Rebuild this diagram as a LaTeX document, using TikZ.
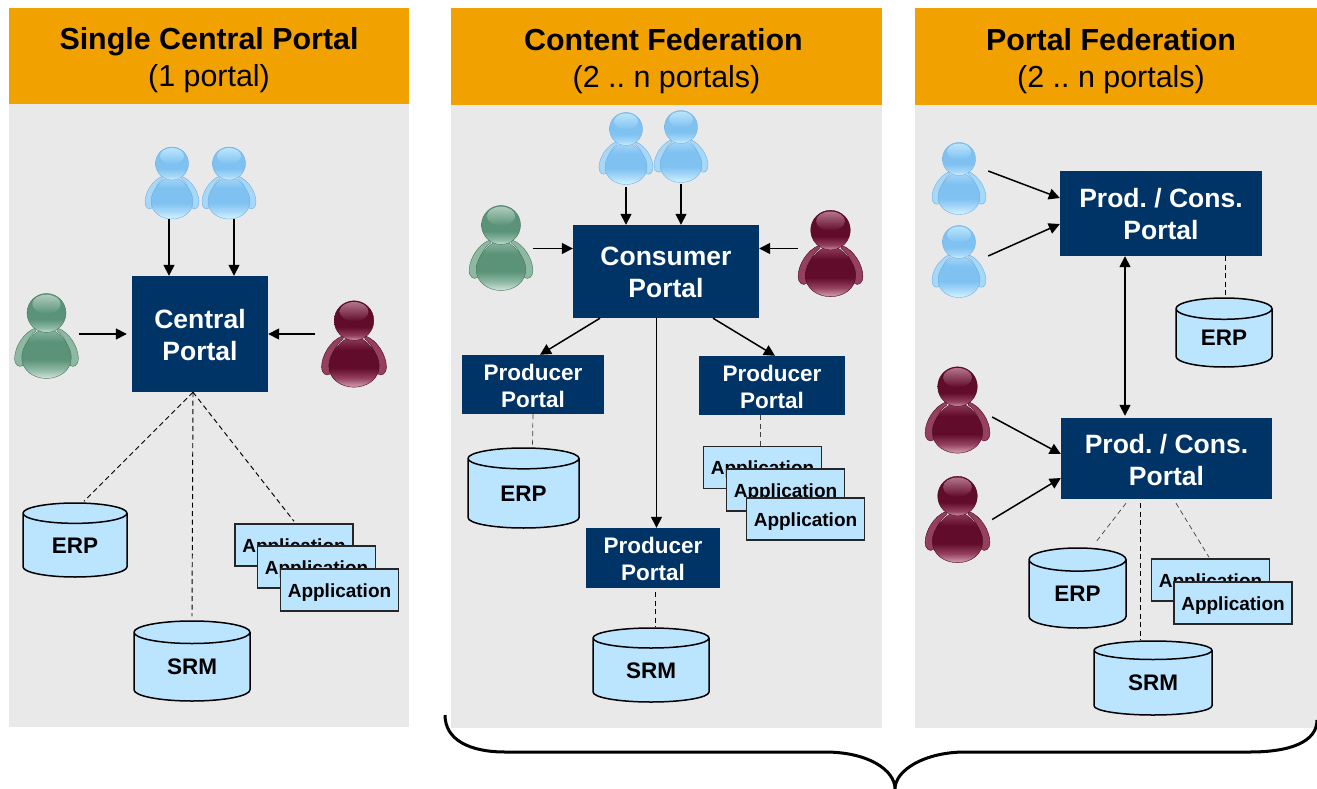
\documentclass[tikz,border=0pt]{standalone}
\usepackage{fontspec}
\setmainfont{Liberation Sans}
\frenchspacing
\usetikzlibrary{arrows.meta,shapes.geometric}

\definecolor{headerorange}{HTML}{F2A200}
\definecolor{panelgray}{HTML}{E9E9E9}
\definecolor{portalblue}{HTML}{003366}
\definecolor{storeblue}{HTML}{BBE5FF}
\definecolor{userbluedark}{HTML}{7FC2F2}
\definecolor{userbluemid}{HTML}{A8D8F8}
\definecolor{userbluelight}{HTML}{D0F2FE}
\definecolor{userblueline}{HTML}{6FB0E2}
\definecolor{usergreendark}{HTML}{5B9379}
\definecolor{usergreenmid}{HTML}{8DB8A2}
\definecolor{usergreenlight}{HTML}{CBE0D4}
\definecolor{usergreenline}{HTML}{46745E}
\definecolor{userreddark}{HTML}{620C2C}
\definecolor{userredmid}{HTML}{94405E}
\definecolor{userredlight}{HTML}{CE98A9}
\definecolor{userredline}{HTML}{4A0A20}

\newcommand{\usershading}[1]{%
    \pgfdeclareverticalshading{#1body}{100bp}{color(0bp)=(#1light); color(26bp)=(#1light);
        color(34bp)=(#1mid); color(44bp)=(#1dark); color(62bp)=(#1dark); color(75bp)=(#1mid); color(100bp)=(#1mid)}%
    \pgfdeclareverticalshading{#1head}{100bp}{color(0bp)=(#1light); color(25bp)=(#1light);
        color(31bp)=(#1mid); color(42bp)=(#1dark); color(75bp)=(#1dark); color(100bp)=(#1dark)}%
}
\usershading{userblue}
\usershading{usergreen}
\usershading{userred}
% pushes a block of lines down inside its box
\newcommand{\topgap}[1]{\rule{0pt}{#1pt}}

\tikzset{
    panel/.style={fill=panelgray, inner sep=0},
    header/.style={fill=headerorange, inner sep=0, align=center, font=\fontsize{30.4}{37}\selectfont},
    portal/.style={fill=portalblue, text=white, inner sep=0, align=center, font=\fontsize{26.5}{32}\selectfont\bfseries},
    portalsmall/.style={portal, font=\fontsize{22.5}{27}\selectfont\bfseries},
    store/.style={cylinder, shape border rotate=90, draw=black, line width=1.5pt, inner sep=0,
        cylinder uses custom fill, cylinder body fill=storeblue, cylinder end fill=storeblue,
        anchor=shape center, font=\fontsize{22.5}{26}\selectfont\bfseries},
    appbox/.style={draw=black!85, line width=1.5pt, fill=storeblue, inner sep=0, minimum width=118pt, minimum height=42pt,
        font=\fontsize{19}{22}\selectfont\bfseries, execute at begin node={\topgap{18}}},
    link/.style={line width=1.5pt, -{Triangle[length=11pt,width=11pt]}},
    dashlink/.style={dashed, line width=0.95pt, dash pattern=on 5pt off 3.5pt},
    thinlink/.style={dashlink, line width=0.7pt, draw=black!75},
    pics/person/.style={code={
        \node[inner sep=0, minimum width=54pt, minimum height=72pt, transform shape] (-n) {};
        % arms
        \foreach \s in {-1,1} {
            \path[xscale=\s, draw=#1line, line width=0.4pt, fill=#1mid]
                (9,-7) .. controls (20,-3) and (27,10) .. (27,19) .. controls (27,25) and (23,27) .. (20,25)
                .. controls (20,12) and (16,0) .. (9,-4) -- cycle;
        }
        % body and head
        \path[draw=#1line, line width=0.4pt, shade, shading=#1body]
            (0,-6) .. controls (10,-6) and (21,8) .. (21,18) .. controls (21,30) and (10,36) .. (0,36)
            .. controls (-10,36) and (-21,30) .. (-21,18) .. controls (-21,8) and (-10,-6) .. (0,-6) -- cycle;
        \path[draw=#1line, line width=0.4pt, shade, shading=#1head] (0,-19.5) circle[radius=16.5];
        \path[top color=#1light, bottom color=#1dark, opacity=0.75] (0,-27) ellipse[x radius=12, y radius=8];
    }},
}

\begin{document}
\begin{tikzpicture}[x=1pt, y=-1pt]

\useasboundingbox (0,0) rectangle (1317,789);

% grey panels with their headers
\node[panel, minimum width=400pt, minimum height=623pt] (pa) at (209,415.5) {};
\node[panel, minimum width=431pt, minimum height=623pt] (pb) at (666.5,416.5) {};
\node[panel, minimum width=402pt, minimum height=623pt] (pc) at (1116,416.5) {};
\node[header, minimum width=400pt, minimum height=96pt] (ha) at (209,56) {\topgap{31}\textbf{Single Central Portal}\\(1 portal)};
\node[header, minimum width=431pt, minimum height=97pt] (hb) at (666.5,56.5) {\topgap{31}\hspace*{-6pt}\textbf{Content Federation}\\(2 .. n portals)};
\node[header, minimum width=402pt, minimum height=97pt] (hc) at (1116,56.5) {\topgap{31}\hspace*{-10pt}\textbf{Portal Federation}\\\hspace*{-10pt}(2 .. n portals)};

% users
\foreach \n/\x/\y/\c/\f in {
    ba/172/183/userblue/1,
    bb/229/183/userblue/1,
    ga/46.5/336/usergreen/1.18,
    ra/354/344/userred/1.2,
    bc/626/148.5/userblue/1,
    bd/681/146.5/userblue/1,
    gb/501/248/usergreen/1.18,
    rb/830.5/253.5/userred/1.2,
    be/959/178.5/userblue/1,
    bf/959/261.5/userblue/1,
    rc/957.5/410/userred/1.2,
    rd/957.5/519.5/userred/1.2%
} {
    \pic[scale=\f] (\n) at (\x,\y) {person=\c};
}

% portals
\node[portal, minimum width=136pt, minimum height=116pt] (central) at (200,334) {\topgap{21}Central\\Portal};
\node[portal, minimum width=186pt, minimum height=93pt] (consumer) at (666,271.5) {\topgap{20}Consumer\\Portal};
\node[portalsmall, minimum width=142pt, minimum height=59pt] (proda) at (533,384.5) {\topgap{19}Producer\\Portal};
\node[portalsmall, minimum width=146pt, minimum height=59pt] (prodb) at (772,385.5) {\topgap{19}Producer\\Portal};
\node[portalsmall, minimum width=134pt, minimum height=60pt] (prodc) at (653,558) {\topgap{19}Producer\\Portal};
\node[portal, minimum width=202pt, minimum height=85pt] (fedup) at (1161,213.5) {\topgap{20}Prod. / Cons.\\Portal};
\node[portal, minimum width=211pt, minimum height=81pt] (feddown) at (1166.5,458.5) {\topgap{23}Prod. / Cons.\\Portal};

% data stores
\foreach \n/\x/\y/\w/\h/\a/\t in {
    erpa/75/540/104/74/.44/ERP,
    srma/192/661/116/80/.45/SRM,
    erpb/523.5/488/111/80/.45/ERP,
    srmb/651/665/116/74/.40/SRM,
    erpc/1224/332.5/96/69/.46/ERP,
    erpd/1077.5/588/97/80/.5/ERP,
    srmc/1153/678/118/74/.37/SRM%
} {
    \node[store, minimum width=\w pt, minimum height=\h pt, aspect=\a] (\n) at (\x,\y) {\t};
}

% applications, back to front
\foreach \n/\x/\y in {
    appa/294/545,
    appb/316.5/567,
    appc/339.5/590,
    appd/762.5/467.5,
    appe/785.5/490,
    appf/805.5/519,
    appg/1210.5/580,
    apph/1233/603%
} {
    \node[appbox] (\n) at (\x,\y) {Application};
}

% arrows from the users
\draw[link] ([xshift=-3pt]ba-n.south) -- ([xshift=-31pt]central.north);
\draw[link] ([xshift=5pt]bb-n.south) -- ([xshift=34pt]central.north);
\draw[link] (ga-n.east |- central.west) -- ([xshift=-5pt]central.west);
\draw[link] ([xshift=-6pt]ra-n.west |- central.east) -- (central.east);
\draw[link] ([yshift=-2pt]bc-n.south) -- (bc-n.south |- consumer.north);
\draw[link] ([yshift=-1pt]bd-n.south) -- (bd-n.south |- consumer.north);
\draw[link] ([yshift=23pt]gb-n.east |- consumer.west) -- ([yshift=23pt]consumer.west);
\draw[link] ([yshift=23pt]rb-n.west |- consumer.east) -- ([yshift=23pt]consumer.east);
\draw[link] ([shift={(2pt,7.5pt)}]be-n.east) -- ([yshift=15.5pt]fedup.west);
\draw[link] ([shift={(2pt,5.5pt)}]bf-n.east) -- ([yshift=-10.5pt]fedup.west);
\draw[link] ([shift={(2pt,-7pt)}]rc-n.east) -- ([yshift=4.5pt]feddown.west);
\draw[link] ([xshift=2pt]rd-n.east) -- ([yshift=-19.5pt]feddown.west);

% arrows between the portals
\draw[link] ([xshift=-66pt]consumer.south) -- ([xshift=7pt]proda.north);
\draw[link] ([xshift=47pt]consumer.south) -- ([xshift=3pt]prodb.north);
\draw[link] ([xshift=-9.5pt]consumer.south) -- ([xshift=3.5pt]prodc.north);
\draw[line width=1.5pt, {Triangle[length=11pt,width=11pt]}-{Triangle[length=11pt,width=11pt]}]
    ([xshift=-36pt]fedup.south) -- ([shift={(-41.5pt,2pt)}]feddown.north);

% dashed links to the back ends
\draw[dashlink] ([xshift=-7pt]central.south) -- ([shift={(9pt,1pt)}]erpa.top);
\draw[dashlink] ([xshift=-7pt]central.south) -- ([yshift=4pt]srma.top);
\draw[dashlink] ([xshift=-7pt]central.south) -- ([yshift=2pt]appa.north);
\draw[thinlink] (proda.south) -- ([xshift=9pt]erpb.top);
\draw[thinlink] ([xshift=-12pt]prodb.south) -- ([xshift=-2.5pt]appd.north);
\draw[dashlink] ([shift={(2pt,-4pt)}]prodc.south) -- ([xshift=4pt]srmb.top);
\draw[dashlink] ([xshift=64pt]fedup.south) -- ([xshift=1pt]erpc.top);
\draw[thinlink] ([shift={(-40.5pt,-4pt)}]feddown.south) -- ([shift={(17.5pt,4pt)}]erpd.top);
\draw[dashlink] ([shift={(-26.5pt,-4pt)}]feddown.south) -- ([xshift=-13pt]srmc.top);
\draw[thinlink] ([shift={(9.5pt,-4pt)}]feddown.south) -- ([shift={(-1.5pt,1pt)}]appg.north);

% brace under the two federation panels
\draw[line width=3pt] (445,715) .. controls (445,740) and (470,752) .. (505,752) -- (825,752)
    .. controls (868,752) and (895,770) .. (895,789) .. controls (895,770) and (925,752) .. (965,752)
    -- (1250,752) .. controls (1290,752) and (1317,742) .. (1317,720);

\end{tikzpicture}
\end{document}
